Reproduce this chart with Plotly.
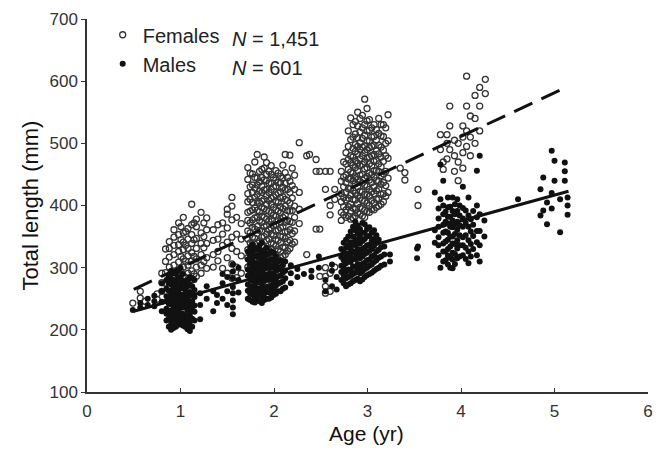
import plotly.graph_objects as go

# ---- data: (age column, [total lengths]) ----
female_age0 = [(0.49, [243]), (0.57, [251, 262]), (0.62, [246]), (0.75, [249, 258]), (0.80, [262, 276, 291])]
female_age1 = [(0.84, [275, 292, 310, 330]), (0.88, [271, 284, 301, 317, 331, 342]),
               (0.93, [278, 293, 304, 321, 336, 349, 361]),
               (0.98, [268, 283, 296, 309, 326, 337, 353, 372]), (1.03, [273, 287, 301, 314, 329, 341, 356, 381]),
               (1.08, [276, 291, 304, 319, 331, 346, 363]), (1.12, [281, 295, 311, 324, 339, 353, 369, 402]),
               (1.17, [286, 301, 314, 331, 347, 366, 378]), (1.22, [291, 304, 321, 339, 356, 389]),
               (1.28, [299, 316, 339, 361, 380]),
               (1.005, [294, 318, 345, 366]), (1.055, [284, 310, 336, 358]),
               (1.145, [290, 318, 345, 372]), (1.25, [310, 332, 350, 372])]
female_age1b = [(1.35, [301, 321, 344, 361]), (1.40, [311, 326, 346, 369]), (1.45, [299, 336, 354, 372]),
                (1.50, [291, 316, 341, 364, 386, 394]), (1.55, [283, 306, 331, 349, 377, 399, 413]),
                (1.60, [284, 301, 326, 354, 381]), (1.65, [291, 319, 346, 371])]
female_age2 = [(1.72, [301, 316, 329, 346, 359, 376, 389, 406, 419, 442, 461]),
               (1.77, [296, 309, 321, 337, 349, 365, 377, 393, 405, 421, 433, 451]),
               (1.82, [291, 303, 314, 329, 340, 355, 366, 381, 392, 407, 418, 433, 444, 482]),
               (1.87, [301, 311, 325, 335, 349, 359, 373, 383, 397, 407, 421, 431, 445, 458]),
               (1.92, [296, 306, 320, 330, 344, 354, 368, 378, 392, 402, 416, 426, 440, 450, 469]),
               (1.97, [306, 316, 330, 340, 354, 364, 378, 388, 402, 412, 426, 436, 450, 464]),
               (2.02, [311, 321, 335, 345, 359, 369, 383, 393, 407, 417, 431, 441, 456]),
               (2.07, [316, 326, 340, 350, 364, 374, 388, 398, 412, 422, 436, 447]),
               (2.12, [321, 332, 347, 358, 373, 384, 399, 410, 425, 436, 453, 482]),
               (2.17, [331, 344, 361, 374, 391, 404, 421, 439, 481]),
               (2.22, [341, 359, 381, 399, 426, 449]), (2.27, [371, 394, 421, 501]),
               (1.745, [305, 322, 340, 356, 372, 391, 410, 430, 452]),
               (1.795, [298, 315, 331, 347, 362, 380, 396, 413, 428, 445, 470]),
               (1.845, [296, 312, 328, 343, 360, 376, 390, 404, 423, 438, 455]),
               (1.895, [303, 318, 333, 350, 366, 381, 395, 410, 425, 441, 460, 478]),
               (1.945, [300, 314, 328, 346, 361, 375, 391, 408, 421, 436, 455]),
               (1.995, [309, 323, 338, 352, 368, 384, 397, 414, 430, 445]),
               (2.045, [313, 329, 344, 361, 377, 391, 405, 420, 437, 452]),
               (2.095, [318, 333, 350, 366, 381, 395, 414, 429, 444, 465]),
               (2.145, [327, 342, 358, 376, 392, 408, 426, 445]),
               (2.195, [338, 355, 373, 392, 412, 432, 460])]
female_age2b = [(2.35, [480, 321]), (2.38, [482]), (2.45, [474, 455, 362]), (2.49, [362, 455, 286]),
                (2.55, [455, 426, 300, 286, 270, 259]), (2.60, [455, 400, 385, 291, 262]), (2.65, [426, 410, 301])]
female_age3 = [(2.72, [376, 389, 406, 419, 439, 455]),
               (2.77, [381, 393, 409, 421, 437, 449, 467, 485]),
               (2.82, [378, 391, 402, 417, 428, 443, 454, 469, 480, 506, 541]),
               (2.87, [383, 394, 409, 420, 435, 446, 461, 472, 487, 498, 515, 535]),
               (2.92, [386, 397, 412, 423, 438, 449, 464, 475, 490, 501, 518, 540]),
               (2.97, [381, 392, 407, 418, 433, 444, 459, 470, 485, 496, 513, 530, 571]),
               (3.02, [389, 400, 415, 426, 441, 452, 467, 478, 493, 504, 521, 538]),
               (3.07, [393, 404, 419, 430, 445, 456, 471, 482, 497, 511, 530]),
               (3.12, [399, 411, 427, 439, 455, 467, 483, 497, 516, 540]),
               (3.17, [406, 419, 437, 451, 471, 489, 511, 530]),
               (3.22, [421, 444, 476, 504, 546]),
               (2.745, [385, 398, 413, 430, 446, 470]),
               (2.795, [383, 398, 412, 427, 443, 458, 474, 495, 520]),
               (2.845, [380, 396, 410, 424, 440, 452, 465, 478, 492, 510, 530]),
               (2.895, [388, 403, 416, 430, 442, 456, 468, 483, 495, 509, 528, 550]),
               (2.945, [383, 395, 408, 422, 436, 450, 466, 480, 494, 508, 525, 545]),
               (2.995, [390, 404, 418, 431, 447, 461, 476, 490, 504, 520, 536, 556]),
               (3.045, [394, 408, 422, 437, 450, 464, 480, 495, 510, 525]),
               (3.095, [397, 410, 424, 440, 456, 472, 488, 505, 522]),
               (3.145, [402, 418, 434, 448, 462, 478, 494, 512, 530]),
               (3.195, [415, 432, 455, 480, 500, 525])]
female_age3b = [(3.35, [460]), (3.40, [453, 441]), (3.54, [426, 400])]
female_age4 = [(3.78, [514, 490]), (3.81, [458, 470]), (3.85, [514, 500, 475]), (3.88, [560, 528, 490]),
               (3.93, [505, 480, 455]), (3.97, [500, 470, 440]), (4.02, [528, 510, 485, 460]),
               (4.06, [608, 560, 520, 495]), (4.10, [544, 510, 480]), (4.15, [577, 540, 500]),
               (4.20, [590, 560, 520]), (4.26, [603, 580])]

male_age0 = [(0.49, [232]), (0.57, [243, 236]), (0.65, [240, 250]), (0.72, [238, 246, 255]),
             (0.80, [230, 245, 262, 275])]
male_age1 = [(0.85, [215, 226, 234, 246, 254, 266, 280]),
             (0.90, [200, 209, 216, 225, 231, 241, 247, 257, 263, 273, 282, 295]),
             (0.95, [205, 215, 222, 233, 240, 251, 258, 269, 276, 290]),
             (1.00, [210, 219, 225, 235, 241, 251, 257, 267, 273, 284, 300]),
             (1.05, [205, 216, 224, 236, 244, 256, 264, 275]),
             (1.10, [198, 207, 213, 223, 229, 239, 245, 255, 261, 272, 285]),
             (1.15, [215, 229, 239, 253, 264, 280]), (1.21, [217, 240, 259]), (1.28, [250, 270]),
             (0.875, [205, 218, 230, 242, 252, 263, 275, 288]),
             (0.925, [203, 212, 220, 229, 238, 246, 254, 262, 270, 280, 291]),
             (0.975, [208, 217, 228, 237, 246, 255, 263, 272, 282, 296]),
             (1.025, [207, 216, 226, 236, 247, 256, 267, 278, 290]),
             (1.075, [201, 211, 220, 232, 242, 250, 260, 270, 280]),
             (1.125, [205, 218, 232, 246, 258, 270, 283])]
male_age1b = [(1.35, [230, 262]), (1.39, [243, 256]), (1.45, [250, 275, 290]), (1.50, [240, 262, 285]),
              (1.56, [225, 236, 247, 259, 269, 283, 294, 305]), (1.62, [260, 280, 300])]
male_age2 = [(1.72, [250, 263, 273, 287, 297, 313, 326]),
             (1.77, [245, 257, 266, 279, 288, 301, 311, 325, 337]),
             (1.82, [248, 259, 267, 279, 287, 299, 307, 319, 330]),
             (1.87, [243, 254, 262, 274, 282, 294, 302, 314, 325, 340]),
             (1.92, [250, 261, 269, 281, 289, 301, 309, 321, 332]),
             (1.97, [252, 263, 271, 283, 291, 303, 313, 326]),
             (2.02, [258, 271, 281, 295, 305, 318]), (2.07, [262, 276, 287, 301, 312]),
             (2.12, [268, 283, 295, 310]), (2.18, [275, 291, 304]), (2.25, [285, 298]),
             (1.745, [248, 258, 270, 281, 293, 306, 320, 333]),
             (1.795, [244, 253, 263, 273, 284, 295, 306, 318, 330]),
             (1.845, [246, 256, 266, 276, 286, 296, 306, 316, 328, 336]),
             (1.895, [248, 258, 268, 278, 288, 298, 308, 318, 328]),
             (1.945, [250, 260, 270, 280, 290, 300, 311, 323]),
             (1.995, [256, 266, 277, 288, 300, 312, 324]),
             (2.045, [262, 274, 286, 298, 310]), (2.095, [266, 278, 292, 304])]
male_age2b = [(2.32, [290]), (2.40, [295, 285]), (2.48, [300, 318]), (2.55, [262, 280]),
              (2.62, [270, 295, 305]), (2.67, [265, 285])]
male_age3 = [(2.72, [280, 293, 303, 317, 330]),
             (2.77, [270, 283, 293, 307, 317, 332, 345]),
             (2.82, [275, 287, 296, 309, 318, 331, 341, 358]),
             (2.87, [280, 292, 301, 314, 323, 336, 345, 360, 374]),
             (2.92, [278, 291, 301, 315, 325, 339, 349, 362]),
             (2.97, [285, 298, 308, 322, 332, 346, 356, 370]),
             (3.02, [290, 303, 313, 327, 337, 351, 365]),
             (3.07, [295, 309, 320, 335, 346, 360]),
             (3.12, [300, 316, 329, 345]), (3.18, [305, 321, 334]), (3.24, [310, 321]),
             (2.745, [275, 288, 300, 312, 325, 340]),
             (2.795, [273, 285, 297, 310, 322, 336, 350]),
             (2.845, [278, 290, 302, 314, 326, 338, 350, 366]),
             (2.895, [282, 294, 306, 318, 330, 342, 354, 368]),
             (2.945, [281, 294, 306, 318, 330, 343, 356, 372]),
             (2.995, [288, 300, 312, 324, 336, 350, 362]),
             (3.045, [292, 305, 318, 330, 343, 356]),
             (3.095, [298, 312, 326, 340, 352]), (3.145, [303, 318, 333])]
male_age3b = [(3.53, [331, 315]), (3.54, [334])]
male_age4 = [(3.72, [421, 360, 340]), (3.76, [320, 336, 349, 366, 379, 395]),
             (3.78, [466, 410, 300]), (3.81, [440, 310, 326, 339, 356, 369, 386, 400]),
             (3.86, [305, 319, 330, 345, 356, 371, 382, 397, 413]),
             (3.91, [299, 313, 324, 339, 350, 365, 376, 391, 413]),
             (3.96, [315, 331, 344, 361, 374, 391, 410]), (4.02, [320, 336, 349, 366, 379, 396, 430]),
             (4.08, [307, 326, 344, 366, 384, 413]), (4.13, [330, 351, 369, 391]),
             (4.17, [456, 320, 341, 359, 381, 400]), (4.20, [480, 310, 336, 359, 386]), (4.25, [350, 376]),
             (3.835, [312, 326, 342, 358, 374, 390]), (3.885, [300, 316, 334, 350, 366, 382, 398]),
             (3.935, [306, 322, 338, 354, 370, 386, 402]), (3.985, [318, 336, 352, 368, 384, 400]),
             (4.05, [314, 332, 352, 372, 392]), (4.105, [318, 338, 358, 378])]
male_age5 = [(4.61, [410]), (4.85, [426, 384]), (4.88, [445, 392]), (4.92, [405, 370]),
             (4.97, [488, 420, 395]), (5.00, [472, 440]), (5.06, [357, 410]), (5.11, [469, 440, 455]),
             (5.14, [413, 400, 385])]

# fitted regression lines (end points)
fit_age = [0.5, 5.15]
female_fit = [265, 592]
male_fit = [230, 423]

x_ticks = [0, 1, 2, 3, 4, 5, 6]
y_ticks = [100, 200, 300, 400, 500, 600, 700]


def expand(groups):
    xs, ys = [], []
    for g in groups:
        for x, vals in g:
            for v in vals:
                xs.append(x)
                ys.append(v)
    return xs, ys


fx, fy = expand([female_age0, female_age1, female_age1b, female_age2, female_age2b,
                 female_age3, female_age3b, female_age4])
mx, my = expand([male_age0, male_age1, male_age1b, male_age2, male_age2b,
                 male_age3, male_age3b, male_age4, male_age5])

font = "Liberation Sans, Arial, sans-serif"
fig = go.Figure()
fig.add_trace(go.Scatter(x=fx, y=fy, mode="markers", name="Females",
                         marker=dict(symbol="circle-open", size=6, color="#333",
                                     line=dict(width=1.3, color="#333"))))
fig.add_trace(go.Scatter(x=mx, y=my, mode="markers", name="Males",
                         marker=dict(symbol="circle", size=6, color="#111")))
fig.add_trace(go.Scatter(x=fit_age, y=female_fit, mode="lines", showlegend=False,
                         line=dict(color="#111", width=3, dash="20px,10px")))
fig.add_trace(go.Scatter(x=fit_age, y=male_fit, mode="lines", showlegend=False,
                         line=dict(color="#111", width=3)))

fig.update_layout(
    width=649, height=439,
    margin=dict(l=79, r=9, t=7, b=55),
    paper_bgcolor="white", plot_bgcolor="white",
    font=dict(family=font, color="#222"),
    showlegend=True,
    legend=dict(x=0.028, y=1.01, xanchor="left", yanchor="top",
                font=dict(size=20, color="#222"), bgcolor="rgba(0,0,0,0)",
                itemwidth=30, tracegroupgap=0),
    xaxis=dict(range=[0, 6], tickvals=x_ticks, ticks="inside", ticklen=4, tickcolor="#333",
               showline=True, linecolor="#333", linewidth=1.5, showgrid=False, zeroline=False,
               automargin=False,
               tickfont=dict(size=17, color="#333"), ticklabelstandoff=3),
    yaxis=dict(range=[100, 700], tickvals=y_ticks, ticks="outside", ticklen=4, tickcolor="#333",
               showline=True, linecolor="#333", linewidth=1.5, showgrid=False, zeroline=False,
               automargin=False,
               tickfont=dict(size=17, color="#333")),
    annotations=[
        dict(x=0.255, y=0.947, xref="paper", yref="paper", xanchor="left", yanchor="middle",
             text="<i>N</i> = 1,451", showarrow=False, font=dict(size=20, color="#222")),
        dict(x=0.255, y=0.868, xref="paper", yref="paper", xanchor="left", yanchor="middle",
             text="<i>N</i> = 601", showarrow=False, font=dict(size=20, color="#222")),
        dict(x=0.499, y=-0.1459, xref="paper", yref="paper", xanchor="center", yanchor="bottom",
             text="Age (yr)", showarrow=False, font=dict(size=21, color="#111"), borderpad=0),
        dict(x=-0.1016, y=0.5, xref="paper", yref="paper", xanchor="center", yanchor="middle",
             text="Total length (mm)", textangle=-90, showarrow=False,
             font=dict(size=22, color="#111")),
    ],
)

fig.write_html("out.html", config={"displayModeBar": False})
